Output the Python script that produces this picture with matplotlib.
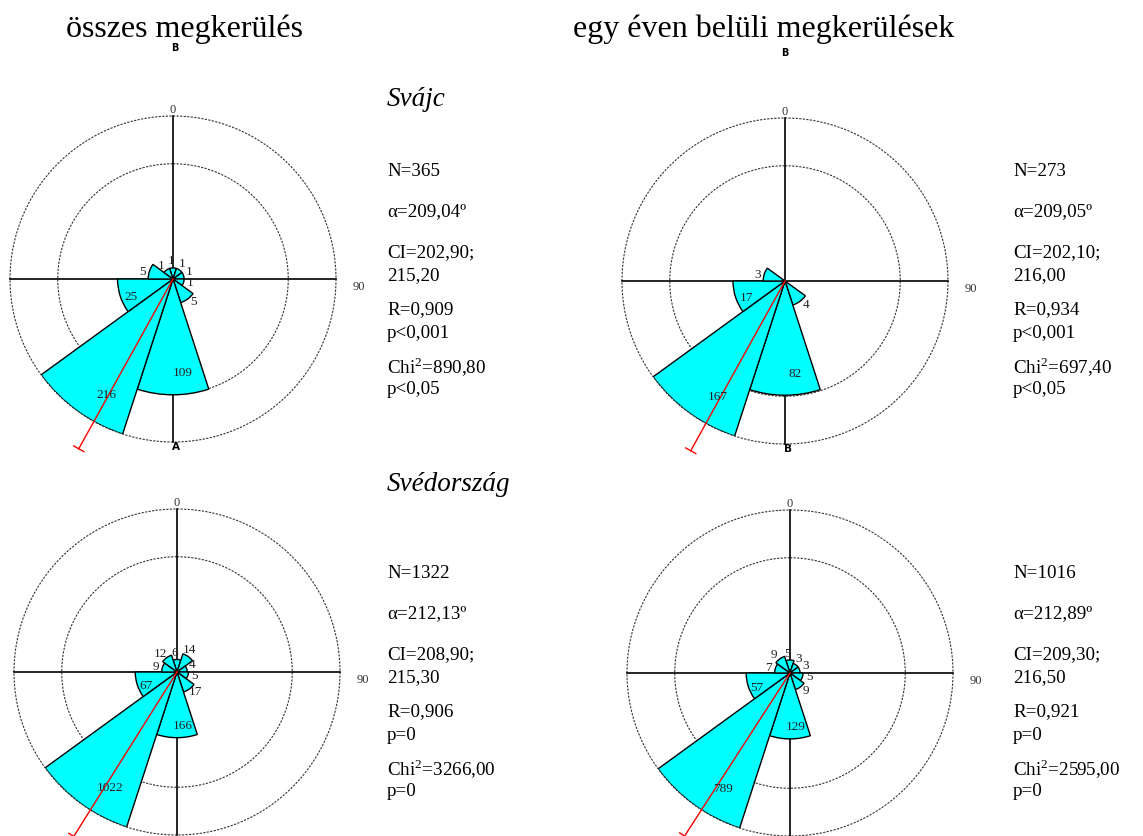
import numpy as np
import matplotlib
matplotlib.use("Agg")
import matplotlib.pyplot as plt

plt.rcParams['font.family'] = ['Liberation Serif', 'DejaVu Serif']
plt.rcParams['mathtext.fontset'] = 'custom'
plt.rcParams['mathtext.rm'] = 'Liberation Serif'

W, H = 1143, 836

# 36 degree bins, centred on 0, 36, ... 324 (clockwise from north)
bin_centers = [0, 36, 72, 108, 144, 180, 216, 252, 288, 324]
bin_width = 36

counts_sv_all = [1, 1, 1, 1, 5, 109, 216, 25, 5, 1]
counts_sv_1yr = [0, 0, 0, 0, 4, 82, 167, 17, 3, 0]
counts_se_all = [6, 14, 4, 5, 17, 166, 1022, 67, 9, 12]
counts_se_1yr = [5, 3, 3, 5, 9, 129, 789, 57, 7, 9]

mean_angles = [209.04, 209.05, 212.13, 212.89]

chi = r"Chi$^{\mathrm{2}}$"
stats_sv_all = ["N=365", "α=209,04º", "CI=202,90;", "215,20", "R=0,909", "p<0,001", chi + "=890,80", "p<0,05"]
stats_sv_1yr = ["N=273", "α=209,05º", "CI=202,10;", "216,00", "R=0,934", "p<0,001", chi + "=697,40", "p<0,05"]
stats_se_all = ["N=1322", "α=212,13º", "CI=208,90;", "215,30", "R=0,906", "p=0", chi + "=3266,00", "p=0"]
stats_se_1yr = ["N=1016", "α=212,89º", "CI=209,30;", "216,50", "R=0,921", "p=0", chi + "=2595,00", "p=0"]

titles = ["összes megkerülés", "egy éven belüli megkerülések"]
countries = ["Svájc", "Svédország"]


def px(x, y):
    return x / W, 1 - y / H


def rose(fig, cx, cy, R, counts, mean_deg, bottom_letter=None):
    ax = fig.add_axes([(cx - R) / W, (H - cy - R) / H, 2 * R / W, 2 * R / H],
                      projection='polar')
    ax.set_theta_zero_location('N')
    ax.set_theta_direction(-1)
    # equal-area rose: radius grows with sqrt of the count
    ax.set_rscale('function', functions=(np.sqrt, np.square))
    cmax = max(counts)
    ax.set_ylim(0, cmax)
    ax.grid(False)
    ax.set_xticks([])
    ax.set_yticks([])
    ax.spines['polar'].set_visible(False)
    ax.patch.set_visible(False)

    t = np.linspace(0, 2 * np.pi, 400)
    for lev in (cmax, cmax / 2):
        ax.plot(t, np.full_like(t, lev), color='#333333', lw=0.8,
                ls=(0, (2, 1.2)), zorder=1, clip_on=False)
    for a in (0, np.pi / 2, np.pi, 3 * np.pi / 2):
        ax.plot([a, a], [0, cmax], color='black', lw=1.2, zorder=1, clip_on=False)

    th = np.deg2rad(bin_centers)
    ax.bar(th, counts, width=np.deg2rad(bin_width), bottom=0,
           color='#00ffff', edgecolor='black', lw=1.0, zorder=2)

    for a, c in zip(bin_centers, counts):
        if c == 0:
            continue
        rf = np.sqrt(c / cmax)
        rl = rf * 0.82 if rf > 0.25 else rf + 0.04
        ax.text(np.deg2rad(a - 6), cmax * rl ** 2, str(c), fontsize=9.5,
                color='#222222', ha='center', va='center', zorder=4)

    m = np.deg2rad(mean_deg)
    r_end = cmax * 1.42
    ax.plot([m, m], [0, r_end], color='red', lw=1.0, zorder=3, clip_on=False)
    ax.plot([m - 0.03, m + 0.03], [r_end, r_end], color='red', lw=1.0,
            zorder=3, clip_on=False)

    ax.text(0.5, 1.018, "0", transform=ax.transAxes, ha='center', va='center',
            fontsize=9, color='#333333')
    ax.text(1.07, 0.475, "90", transform=ax.transAxes, ha='center', va='center',
            fontsize=9, color='#333333')
    if bottom_letter:
        ax.text(0.51, -0.015, bottom_letter, transform=ax.transAxes, ha='center',
                va='center', fontsize=7.5, fontweight='bold',
                family=['DejaVu Sans'], color='black')
    return ax


def stats_block(fig, x, y0, lines):
    offsets = [0, 40, 81, 104, 138, 161, 195, 218]
    for off, s in zip(offsets, lines):
        fig.text(*px(x, y0 + off), s, fontsize=13.7, va='center', ha='left')


fig = plt.figure(figsize=(W / 100, H / 100), dpi=100)

fig.text(*px(185, 29), titles[0], fontsize=23, ha='center', va='center')
fig.text(*px(764, 29), titles[1], fontsize=23, ha='center', va='center')
fig.text(*px(175, 48), "B", fontsize=7, fontweight='bold', family=['DejaVu Sans'],
         ha='center', va='center')
fig.text(*px(785, 53), "B", fontsize=7, fontweight='bold', family=['DejaVu Sans'],
         ha='center', va='center')

fig.text(*px(387, 100), countries[0], fontsize=19.5, style='italic', ha='left', va='center')
fig.text(*px(387, 485), countries[1], fontsize=19.5, style='italic', ha='left', va='center')

R = 163
rose(fig, 173, 279, R, counts_sv_all, mean_angles[0], "A")
rose(fig, 785, 281, R, counts_sv_1yr, mean_angles[1], "B")
rose(fig, 177, 672, R, counts_se_all, mean_angles[2])
rose(fig, 790, 673, R, counts_se_1yr, mean_angles[3])

stats_block(fig, 387, 172, stats_sv_all)
stats_block(fig, 1013, 172, stats_sv_1yr)
stats_block(fig, 387, 574, stats_se_all)
stats_block(fig, 1013, 574, stats_se_1yr)

fig.savefig("out.png", dpi=100)
